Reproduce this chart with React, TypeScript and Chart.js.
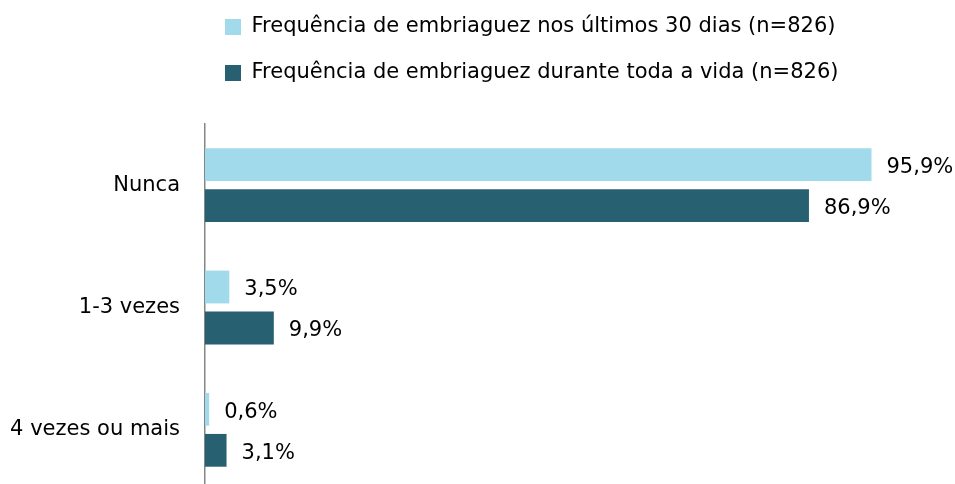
import React, { useEffect, useRef } from 'react';
import { Chart, registerables } from 'chart.js';

Chart.register(...registerables);

const categories = ['Nunca', '1-3 vezes', '4 vezes ou mais'];
const seriesNames = [
  'Frequência de embriaguez nos últimos 30 dias (n=826)',
  'Frequência de embriaguez durante toda a vida (n=826)',
];
const last30Days = [95.9, 3.5, 0.6];
const lifetime = [86.9, 9.9, 3.1];

const FONT = "'DejaVu Sans', sans-serif";
const FONT_SIZE = 21;
const LIGHT = '#A1DAEB';
const DARK = '#276171';

const fmt = (v: number) => v.toFixed(1).replace('.', ',') + '%';

export default function App() {
  const ref = useRef<HTMLCanvasElement>(null);

  useEffect(() => {
    if (!ref.current) return;
    const font = { family: FONT, size: FONT_SIZE };

    const legendPlacement = {
      id: 'legendPlacement',
      beforeInit(chart: any) {
        const lg = chart.legend;
        if (!lg) return;
        const orig = lg.fit;
        lg.fit = function () {
          orig.call(this);
          this.height = 124;
        };
      },
      afterLayout(chart: any) {
        const lg = chart.legend;
        if (!lg) return;
        lg.left = 225 - 25;
        lg.right = 955;
        lg.top = -8.5;
      },
    };

    const valueLabels = {
      id: 'valueLabels',
      afterDatasetsDraw(chart: any) {
        const ctx = chart.ctx;
        ctx.save();
        ctx.font = `${FONT_SIZE}px ${FONT}`;
        ctx.fillStyle = '#000';
        ctx.textBaseline = 'middle';
        ctx.textAlign = 'left';
        chart.data.datasets.forEach((ds: any, i: number) => {
          const meta = chart.getDatasetMeta(i);
          meta.data.forEach((el: any, j: number) => {
            ctx.fillText(fmt(ds.data[j]), el.x + 15, el.y + 3);
          });
        });
        ctx.restore();
      },
    };

    const chart = new Chart(ref.current, {
      type: 'bar',
      data: {
        labels: categories,
        datasets: [
          {
            label: seriesNames[0],
            data: last30Days,
            backgroundColor: LIGHT,
            categoryPercentage: 0.67,
            barPercentage: 0.8,
          },
          {
            label: seriesNames[1],
            data: lifetime,
            backgroundColor: DARK,
            categoryPercentage: 0.67,
            barPercentage: 0.8,
          },
        ],
      },
      options: {
        indexAxis: 'y',
        responsive: false,
        maintainAspectRatio: false,
        animation: false,
        layout: { padding: { left: 0, right: 55, top: 0, bottom: 0 } },
        plugins: {
          legend: {
            position: 'top',
            align: 'start',
            labels: {
              font,
              color: '#000',
              boxWidth: 16,
              boxHeight: 16,
              padding: 25,
            },
          },
          tooltip: { enabled: false },
        },
        scales: {
          x: { display: false, min: 0, max: 100 },
          y: {
            grid: { display: false, drawTicks: false },
            border: { display: true, color: '#858585', width: 1.5 },
            ticks: { font, color: '#000', padding: 25 },
            afterFit: (s: any) => {
              s.width = 205;
              s.paddingTop = 0;
              s.paddingBottom = 0;
            },
          },
        },
      },
      plugins: [legendPlacement, valueLabels],
    } as any);

    return () => chart.destroy();
  }, []);

  return (
    <div
      style={{
        position: 'fixed',
        left: 0,
        top: 0,
        width: 955,
        height: 484,
        overflow: 'hidden',
        background: '#fff',
      }}
    >
      <canvas ref={ref} width={955} height={491} style={{ display: 'block' }} />
    </div>
  );
}
